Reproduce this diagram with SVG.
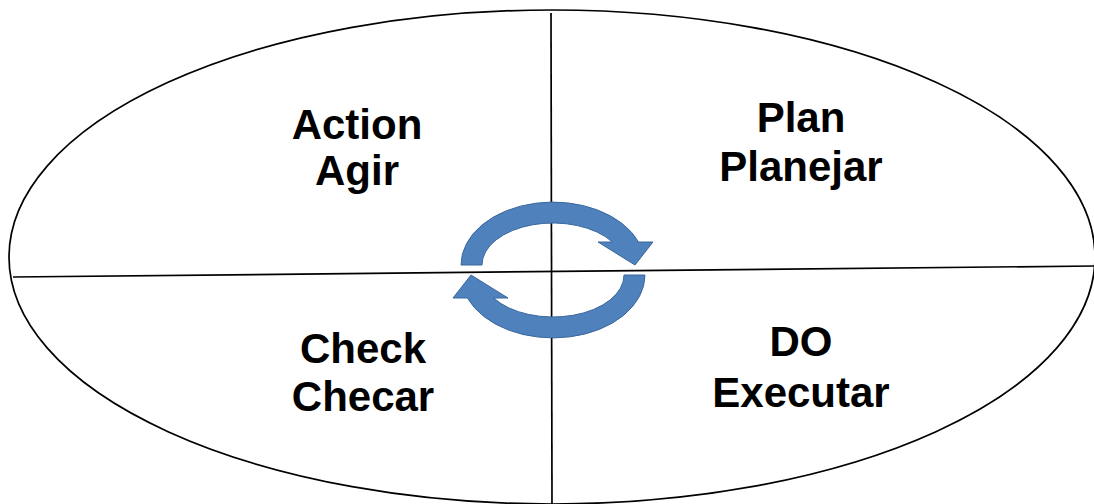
<svg xmlns="http://www.w3.org/2000/svg" width="1094" height="504" viewBox="0 0 1094 504">
  <style>
    .outline { fill: none; stroke: #000; stroke-width: 1.7; }
    .axis { stroke: #000; stroke-width: 1.7; fill: none; }
    .cycle { fill: #4F81BD; stroke: #3A679C; stroke-width: 1; }
    .label { font-family: "Liberation Sans", Arial, sans-serif; font-weight: bold; font-size: 42px; fill: #000; text-anchor: middle; }
  </style>
  <defs>
    <!-- curved arrow: upper half, clockwise, head pointing down-right -->
    <path id="arc-arrow" d="M461,265 A92,63 0 0 1 638.6,242 L653,242 L635,265 L598,242 L612.4,242 A71,42 0 0 0 482,265 Z"/>
  </defs>

  <rect width="1094" height="504" fill="#fff"/>

  <g id="frame">
    <ellipse class="outline" cx="552" cy="257" rx="543" ry="247"/>
  </g>

  <g id="connectors">
    <line class="axis" x1="13" y1="277" x2="1094" y2="266"/>
    <line class="axis" x1="551" y1="13" x2="552" y2="504"/>
  </g>

  <g id="cycle">
    <use href="#arc-arrow" class="cycle"/>
    <use href="#arc-arrow" class="cycle" transform="rotate(180 553 270)"/>
  </g>

  <g id="action">
    <text class="label" x="357" y="139">Action</text>
    <text class="label" x="357" y="185">Agir</text>
  </g>
  <g id="plan">
    <text class="label" x="801" y="132">Plan</text>
    <text class="label" x="801" y="181">Planejar</text>
  </g>
  <g id="check">
    <text class="label" x="363" y="363">Check</text>
    <text class="label" x="363" y="411">Checar</text>
  </g>
  <g id="do">
    <text class="label" x="801" y="356">DO</text>
    <text class="label" x="801" y="407">Executar</text>
  </g>
</svg>
